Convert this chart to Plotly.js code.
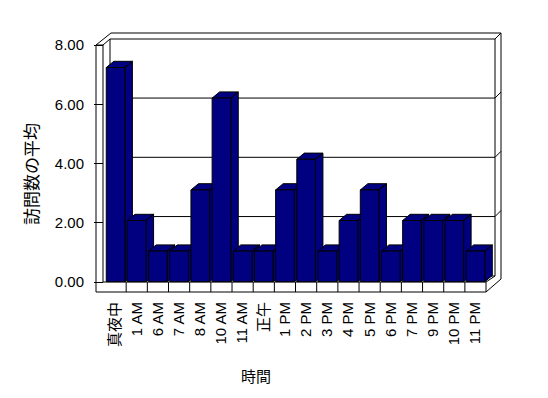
<!DOCTYPE html>
<html>
<head>
<meta charset="utf-8">
<script src="https://cdn.plot.ly/plotly-3.0.1.min.js"></script>
<style>html,body{margin:0;padding:0;background:#fff;}#chart{width:548px;height:398px;}</style>
</head>
<body>
<div id="chart"></div>
<script>
// ---- data ----
const categories = ['真夜中','1 AM','6 AM','7 AM','8 AM','10 AM','11 AM','正午','1 PM','2 PM','3 PM','4 PM','5 PM','6 PM','7 PM','9 PM','10 PM','11 PM'];
const avgVisits = [7,2,1,1,3,6,1,1,3,4,1,2,3,1,2,2,2,1];
const yTickVals = [0,2,4,6,8];
const yTitle = '訪問数の平均';
const xTitle = '時間';

// ---- geometry (pixels of the 548x398 page) ----
const W = 548, H = 398;
const PL = 94, PR = 503, PT = 31, PB = 294;     // plot area
const CAT0 = 105, CATW = 21.17;                   // left edge of first category, category width
const Y0T = 282, UNIT_T = 29.625;                 // value axis (front plane)
const Y0B = 281.7, UNIT_B = 30.6;                 // bars (projected plane)
const DEPTH_X = 7.5, DEPTH_Y = 6.2;               // bar depth offset in px
const BAR_W = 0.88;

const xRange = [-0.5 - (CAT0 - PL) / CATW, -0.5 + (PR - CAT0) / CATW];
const yTRange = [(Y0T - PB) / UNIT_T, (Y0T - PT) / UNIT_T];
const yBRange = [(Y0B - PB) / UNIT_B, (Y0B - PT) / UNIT_B];
const X = px => -0.5 + (px - CAT0) / CATW;
const Y = py => (Y0T - py) / UNIT_T;

const FONT = "'Liberation Sans', Arial, 'Noto Sans CJK JP', sans-serif";
const NAVY = '#000080';

// ---- 3D faces of bars (side + top), drawn under the front faces ----
const dx = DEPTH_X / CATW, dy = DEPTH_Y / UNIT_B, h = BAR_W / 2;
const traces = [];
avgVisits.forEach((v, i) => {
  const xs = [i + h, i + h, i + h + dx, i + h + dx, i + h, null,
              i - h, i + h, i + h + dx, i - h + dx, i - h];
  const ys = [0, v, v + dy, dy, 0, null,
              v, v, v + dy, v + dy, v];
  traces.push({
    type: 'scatter', mode: 'lines', x: xs, y: ys, yaxis: 'y2',
    fill: 'toself', fillcolor: NAVY, line: {color: '#000', width: 1},
    hoverinfo: 'skip', showlegend: false
  });
});
// front faces
traces.push({
  type: 'bar', x: categories.map((c, i) => i), y: avgVisits, yaxis: 'y3',
  width: BAR_W, marker: {color: NAVY, line: {color: '#000', width: 1}},
  hovertext: categories, hoverinfo: 'text+y', textposition: 'none', showlegend: false
});

// ---- walls / floor (chart furniture) ----
const shapes = [];
const L = (x0, y0, x1, y1) => shapes.push({type: 'line', xref: 'x', yref: 'y', layer: 'below',
  x0: X(x0), y0: Y(y0), x1: X(x1), y1: Y(y1), line: {color: '#000', width: 1}});
L(96, 45, 96, 292);      // left wall outer front edge
L(103, 45, 103, 282);    // left wall inner front edge
L(96, 45, 103, 45);
L(96, 45, 111, 33);
L(103, 45, 110, 39);
L(110, 39, 110, 276);    // back wall left edge
L(111, 33, 501, 33);     // back wall top (outer)
L(110, 39, 495, 39);     // back wall top (inner)
L(495, 39, 501, 33);
L(501, 33, 501, 279);    // right wall
L(495, 39, 495, 276);
L(110, 276, 495, 276);   // floor back edge
// back-wall gridlines
yTickVals.slice(1, -1).forEach(t => {
  const py = Y0T - t * UNIT_T - DEPTH_Y;
  L(110, py, 495, py);
  L(495, py, 501, py - 6);
});
// floor
L(103, 282, 486, 282);
L(96, 292, 486, 292);
L(486, 282, 486, 292);
L(486, 292, 501, 279);
L(486, 282, 495, 276);
// category separators on the floor front
categories.forEach((c, i) => {
  if (i < categories.length - 1) {
    shapes.push({type: 'line', xref: 'x', yref: 'y', layer: 'below',
      x0: i + 0.5, x1: i + 0.5, y0: Y(282), y1: Y(292), line: {color: '#000', width: 1}});
  }
});

const layout = {
  width: W, height: H,
  margin: {l: PL, r: W - PR, t: PT, b: H - PB, pad: 0},
  paper_bgcolor: '#fff', plot_bgcolor: '#fff',
  font: {family: FONT, size: 15, color: '#000'},
  showlegend: false,
  bargap: 0,
  xaxis: {
    range: xRange, tickmode: 'array', tickvals: categories.map((c, i) => i), ticktext: categories,
    tickangle: -90, ticks: '', showgrid: false, zeroline: false, showline: false,
    ticklabelstandoff: 4, tickfont: {family: FONT, size: 15, color: '#000'}, fixedrange: true
  },
  yaxis: {
    range: yTRange, tickmode: 'array', tickvals: yTickVals, tickformat: '.2f',
    ticks: 'inside', ticklen: 9, tickcolor: '#000', tickwidth: 1,
    showgrid: false, zeroline: false, showline: false,
    ticklabelstandoff: 9, tickfont: {family: FONT, size: 15, color: '#000'}, fixedrange: true
  },
  yaxis2: {range: yBRange, overlaying: 'y', visible: false, fixedrange: true},
  yaxis3: {range: yBRange, overlaying: 'y', visible: false, fixedrange: true},
  shapes: shapes,
  annotations: [
    {text: yTitle, xref: 'paper', yref: 'paper', x: (30 - PL) / (PR - PL), y: (PB - 174) / (PB - PT),
     xanchor: 'center', yanchor: 'middle', textangle: -90, showarrow: false,
     font: {family: "'Noto Sans CJK JP', sans-serif", size: 17, color: '#000'}},
    {text: xTitle, xref: 'paper', yref: 'paper', x: (255.5 - PL) / (PR - PL), y: (PB - 375.5) / (PB - PT),
     xanchor: 'center', yanchor: 'middle', showarrow: false,
     font: {family: "'Noto Sans CJK JP', sans-serif", size: 15, color: '#000'}}
  ]
};

Plotly.newPlot('chart', traces, layout, {displayModeBar: false, staticPlot: true});
</script>
</body>
</html>
